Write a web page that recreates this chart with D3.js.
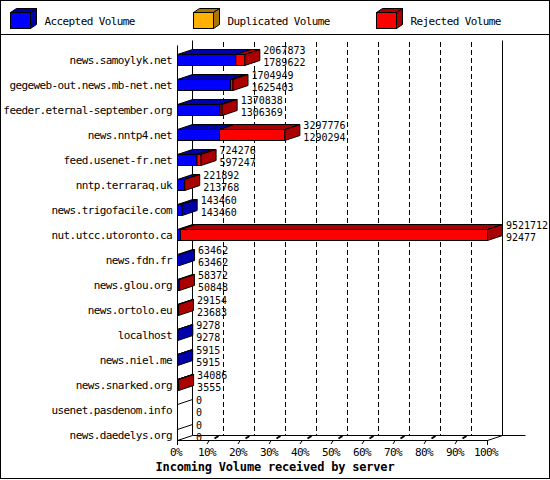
<!DOCTYPE html>
<html>
<head>
<meta charset="utf-8">
<script src="https://cdn.jsdelivr.net/npm/d3@7"></script>
<style>
	body { margin: 0; background: #fff; }
	text { font-family: "DejaVu Sans Mono", monospace; font-size: 11px; letter-spacing: -0.6px; fill: #000; }
	text.val { font-size: 10px; letter-spacing: 0; }
</style>
</head>
<body>
<div id="chart"></div>
<script>
	let servers = ["news.samoylyk.net", "gegeweb-out.news.mb-net.net", "feeder.eternal-september.org",
		"news.nntp4.net", "feed.usenet-fr.net", "nntp.terraraq.uk", "news.trigofacile.com",
		"nut.utcc.utoronto.ca", "news.fdn.fr", "news.glou.org", "news.ortolo.eu", "localhost",
		"news.niel.me", "news.snarked.org", "usenet.pasdenom.info", "news.daedelys.org"];
	let totalVol = [2067873, 1704949, 1370838, 3297776, 724276, 221892, 143460, 9521712,
		63462, 58372, 29154, 9278, 5915, 34086, 0, 0];
	let acceptedVol = [1789622, 1625403, 1306369, 1290294, 597247, 213768, 143460, 92477,
		63462, 50848, 23683, 9278, 5915, 3555, 0, 0];
	let duplicatedVol = [0, 0, 0, 0, 0, 0, 0, 0, 0, 0, 0, 0, 0, 0, 0, 0];
	let legendNames = ["Accepted Volume", "Duplicated Volume", "Rejected Volume"];
	let pctTicks = [0, 10, 20, 30, 40, 50, 60, 70, 80, 90, 100];

	let colors = [
		{ front: "#0000ff", dark: "#0000aa" },
		{ front: "#ffb000", dark: "#aa7600" },
		{ front: "#ff0000", dark: "#aa0000" }
	];

	let width = 550;
	let height = 480;
	let x0 = 177, x1 = 487;
	let dx = 15, dy = -5;
	let floor = 440;
	let barH = 11;

	let svg = d3.select("#chart")
		.append("svg")
		.attr("width", width)
		.attr("height", height);

	// frame + legend box
	svg.append("rect")
		.attr("x", 0.5).attr("y", 0.5)
		.attr("width", width - 1).attr("height", 478)
		.attr("fill", "none").attr("stroke", "#000");
	svg.append("line")
		.attr("x1", 0).attr("x2", width)
		.attr("y1", 34.5).attr("y2", 34.5)
		.attr("stroke", "#000");

	let legend = svg.selectAll(".legend")
		.data(legendNames)
		.enter()
		.append("g")
		.attr("class", "legend")
		.attr("transform", (d, i) => "translate(" + (10.5 + i * 183) + ",12.5)");

	legend.append("path")
		.attr("d", "M0,0L6,-4L26,-4L20,0Z")
		.attr("fill", (d, i) => colors[i].dark)
		.attr("stroke", "#000");
	legend.append("path")
		.attr("d", "M20,0L26,-4L26,12L20,16Z")
		.attr("fill", (d, i) => colors[i].dark)
		.attr("stroke", "#000");
	legend.append("rect")
		.attr("width", 20).attr("height", 16)
		.attr("fill", (d, i) => colors[i].front)
		.attr("stroke", "#000");
	legend.append("text")
		.attr("x", 34)
		.attr("y", 12.5)
		.text(d => d);

	let x = d3.scaleLinear()
		.domain([0, d3.max(totalVol)])
		.range([x0, x1]);

	let pct = d3.scaleLinear()
		.domain([0, 100])
		.range([x0, x1]);

	let y = d3.scaleBand()
		.domain(servers)
		.range([floor - servers.length * 25, floor]);

	// back wall gridlines
	svg.selectAll(".grid")
		.data(pctTicks.slice(1, -1))
		.enter()
		.append("line")
		.attr("class", "grid")
		.attr("x1", d => Math.round(pct(d) + dx) + 0.5)
		.attr("x2", d => Math.round(pct(d) + dx) + 0.5)
		.attr("y1", 42)
		.attr("y2", floor + dy)
		.attr("stroke", "#000")
		.attr("stroke-dasharray", "5,3");

	// walls and floor
	let walls = [
		[x0, 45, x0, floor],
		[x0 + dx, 40, x0 + dx, floor + dy],
		[x1 + dx, 40, x1 + dx, floor + dy],
		[x0 + dx, floor + dy, 525, floor + dy],
		[x0, floor, x0 + dx, floor + dy],
		[x1, floor, x1 + dx, floor + dy]
	];
	svg.selectAll(".wall")
		.data(walls)
		.enter()
		.append("line")
		.attr("class", "wall")
		.attr("x1", d => d[0] + 0.5).attr("y1", d => d[1] + 0.5)
		.attr("x2", d => d[2] + 0.5).attr("y2", d => d[3] + 0.5)
		.attr("stroke", "#000");

	// bars
	let rows = servers.map((s, i) => {
		let acc = acceptedVol[i], dup = duplicatedVol[i], tot = totalVol[i];
		let segs = [
			{ v0: 0, v1: acc, c: colors[0] },
			{ v0: acc, v1: acc + dup, c: colors[1] },
			{ v0: acc + dup, v1: tot, c: colors[2] }
		].filter(d => d.v1 > d.v0);
		return { name: s, total: tot, accepted: acc, segs: segs };
	});

	let row = svg.selectAll(".row")
		.data(rows)
		.enter()
		.append("g")
		.attr("class", "row");

	row.each(function (d) {
		let g = d3.select(this);
		let bottom = y(d.name) + y.step() + 0.5;
		let top = bottom - barH;

		if (d.segs.length === 0) {
			g.append("line")
				.attr("x1", x0 + 0.5).attr("y1", top)
				.attr("x2", x0 + dx + 0.5).attr("y2", top + dy)
				.attr("stroke", "#000");
		}

		d.segs.forEach(s => {
			let a = x(s.v0) + 0.5, b = x(s.v1) + 0.5;
			g.append("path")
				.attr("d", "M" + a + "," + top + "L" + (a + dx) + "," + (top + dy) +
					"L" + (b + dx) + "," + (top + dy) + "L" + b + "," + top + "Z")
				.attr("fill", s.c.dark)
				.attr("stroke", "#000");
			g.append("rect")
				.attr("x", a).attr("y", top)
				.attr("width", b - a).attr("height", barH)
				.attr("fill", s.c.front)
				.attr("stroke", "#000");
		});

		if (d.segs.length) {
			let last = d.segs[d.segs.length - 1];
			let e = x(d.total) + 0.5;
			g.append("path")
				.attr("d", "M" + e + "," + top + "L" + (e + dx) + "," + (top + dy) +
					"L" + (e + dx) + "," + (bottom + dy) + "L" + e + "," + bottom + "Z")
				.attr("fill", last.c.dark)
				.attr("stroke", "#000");
		}

		let tx = x(d.total) + dx + 4;
		g.append("text")
			.attr("class", "val")
			.attr("x", tx).attr("y", bottom - 11.5)
			.text(d.total);
		g.append("text")
			.attr("class", "val")
			.attr("x", tx).attr("y", bottom + 0.5)
			.text(d.accepted);
		g.append("text")
			.attr("x", 172).attr("y", bottom - 2)
			.attr("text-anchor", "end")
			.text(d.name);
	});

	// x axis
	let axis = svg.append("g")
		.attr("transform", "translate(0," + floor + ")")
		.call(d3.axisBottom(pct)
			.tickValues(pctTicks)
			.tickFormat(d => d + "%")
			.tickSize(5)
			.tickSizeOuter(0));

	axis.attr("font-family", null).attr("font-size", null);
	axis.select(".domain").attr("stroke", "#000");
	axis.selectAll(".tick text").attr("x", -1.5);

	axis.selectAll(".tick")
		.filter(d => d > 0 && d < 100)
		.each(function () {
			let t = d3.select(this);
			t.select("line")
				.attr("x1", -1.5).attr("y1", 4)
				.attr("x2", 1).attr("y2", 0);
			t.append("line")
				.attr("x1", 6).attr("y1", -1.5)
				.attr("x2", 10).attr("y2", -4)
				.attr("stroke", "#000")
				.attr("stroke-width", 2);
		});

	svg.append("text")
		.attr("x", width / 2)
		.attr("y", 471)
		.attr("text-anchor", "middle")
		.attr("style", "font-weight: bold; font-size: 12px; letter-spacing: -0.2px;")
		.text("Incoming Volume received by server");
</script>
</body>
</html>
